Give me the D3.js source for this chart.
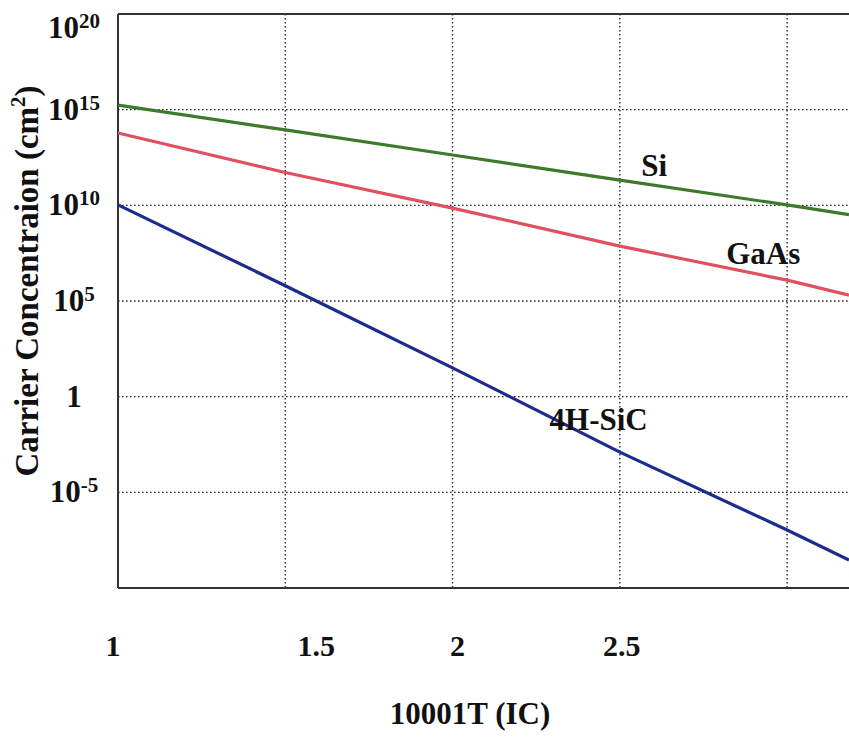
<!DOCTYPE html>
<html>
<head>
<meta charset="utf-8">
<script src="https://cdn.jsdelivr.net/npm/d3@7/dist/d3.min.js"></script>
<style>
  html, body { margin: 0; padding: 0; background: #fff; }
  svg { display: block; }
  text { font-family: "Liberation Serif", "Times New Roman", serif; font-weight: bold; fill: #111; }
</style>
</head>
<body>
<svg id="chart" width="849" height="739"></svg>
<script>
// Reciprocal temperature, 1000/T
const invT = [1, 1.5, 2, 2.5, 3, 3.185];

// Intrinsic carrier concentration (cm^-3) for each material
const siValues   = [1.74e15, 8.7e13, 4.27e12, 2.09e11, 1.05e10, 3.3e9];
const gaasValues = [6.0e13, 5.2e11, 7.2e9, 7.4e7, 1.23e6, 2.0e5];
const sicValues  = [1.05e10, 6.3e5, 32, 1.26e-3, 1.07e-7, 2.9e-9];

const seriesNames = ["Si", "GaAs", "4H-SiC"];

// Axis ticks
const xTickValues = [1, 1.5, 2, 2.5];
const xTickLabels = ["1", "1.5", "2", "2.5"];
const xGridValues = [1.5, 2, 2.5, 3];
const yTickExponents = [20, 15, 10, 5, 0, -5];
const yGridExponents = [15, 10, 5, 0, -5];

const svg = d3.select("#chart");

const x = d3.scaleLinear().domain([1, 3.185]).range([118, 849]);
const y = d3.scaleLog().domain([1e-10, 1e20]).range([588, 14]);

// Dotted grid
const grid = svg.append("g").attr("stroke", "#2a2a2a").attr("stroke-width", 1.4)
  .attr("stroke-dasharray", "1.6,2.4");
grid.selectAll(".vg").data(xGridValues).join("line")
  .attr("x1", d => x(d)).attr("x2", d => x(d))
  .attr("y1", y(1e20)).attr("y2", y(1e-10));
grid.selectAll(".hg").data(yGridExponents).join("line")
  .attr("x1", x(1)).attr("x2", 849)
  .attr("y1", d => y(Math.pow(10, d))).attr("y2", d => y(Math.pow(10, d)));

// Frame: left, top and bottom edges
const frame = svg.append("g").attr("stroke", "#333").attr("stroke-width", 2).attr("fill", "none");
frame.append("line").attr("x1", x(1)).attr("x2", x(1)).attr("y1", y(1e20)).attr("y2", y(1e-10));
frame.append("line").attr("x1", x(1)).attr("x2", 849).attr("y1", y(1e20)).attr("y2", y(1e20));
frame.append("line").attr("x1", x(1)).attr("x2", 849).attr("y1", y(1e-10)).attr("y2", y(1e-10));

// Curves
const series = [
  { name: "Si", values: siValues, color: "#3d7a2c" },
  { name: "GaAs", values: gaasValues, color: "#e0505e" },
  { name: "4H-SiC", values: sicValues, color: "#1c2c8c" }
];
const line = d3.line().x((d, i) => x(invT[i])).y(d => y(d));
svg.append("g").selectAll("path").data(series).join("path")
  .attr("d", d => line(d.values))
  .attr("fill", "none")
  .attr("stroke", d => d.color)
  .attr("stroke-width", 3.2)
  .attr("stroke-linejoin", "round");

// Curve labels placed in data coordinates
const labelPos = { "Si": [2.564, 3.4e11], "GaAs": [2.818, 8.5e6], "4H-SiC": [2.29, 1.8e-2] };
svg.append("g").selectAll("text").data(seriesNames).join("text")
  .attr("x", d => x(labelPos[d][0]))
  .attr("y", d => y(labelPos[d][1]))
  .attr("font-size", 31)
  .text(d => d);

// Y tick labels (powers of ten)
const yLab = svg.append("g");
yTickExponents.forEach(e => {
  const yy = Math.max(y(Math.pow(10, e)) + 10, 38);
  const t = yLab.append("text").attr("x", 74).attr("y", yy)
    .attr("text-anchor", "middle").attr("font-size", 31);
  if (e === 0) {
    t.text("1");
  } else {
    t.append("tspan").text("10");
    t.append("tspan").attr("font-size", 21).attr("dy", -10).text(String(e));
  }
});

// X tick labels
const xOffsets = [-5, 31, 5, 2];
svg.append("g").selectAll("text").data(xTickValues).join("text")
  .attr("x", (d, i) => x(d) + xOffsets[i])
  .attr("y", 656)
  .attr("text-anchor", "middle")
  .attr("font-size", 30)
  .text((d, i) => xTickLabels[i]);

// Axis titles
svg.append("text").attr("x", 470).attr("y", 724).attr("text-anchor", "middle")
  .attr("font-size", 31).text("10001T (IC)");

const yt = svg.append("text")
  .attr("transform", "translate(38,281) rotate(-90)")
  .attr("text-anchor", "middle").attr("font-size", 33);
yt.append("tspan").text("Carrier Concentraion (cm");
yt.append("tspan").attr("font-size", 21).attr("dy", -13).text("2");
yt.append("tspan").attr("dy", 13).text(")");
</script>
</body>
</html>
